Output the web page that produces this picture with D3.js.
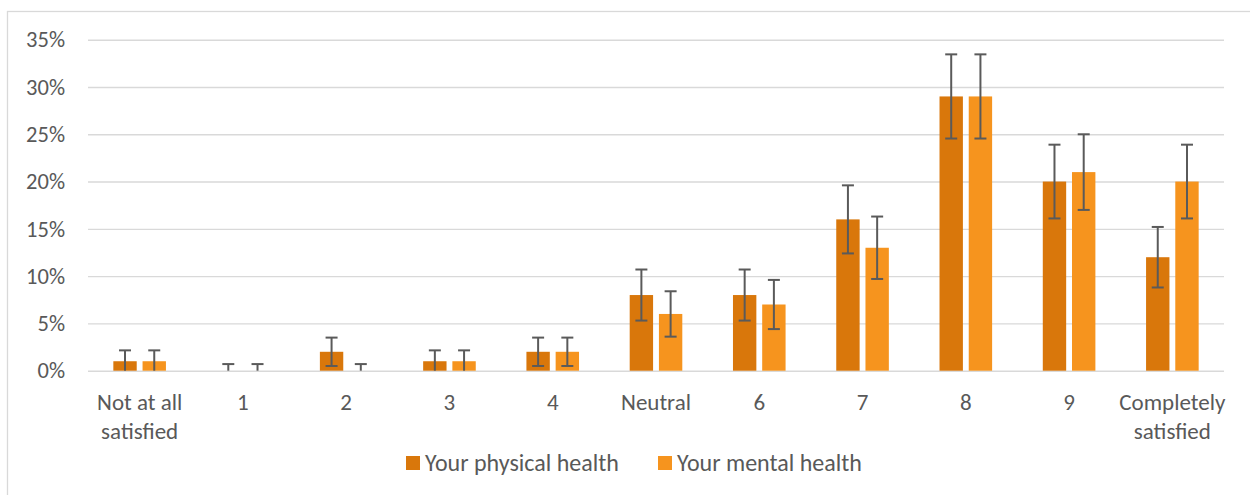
<!DOCTYPE html>
<html>
<head>
<meta charset="utf-8">
<script src="https://cdn.jsdelivr.net/npm/d3@7"></script>
<style>
  html, body { margin: 0; padding: 0; background: #fff; }
  svg { display: block; }
  text { font-family: Calibri, Carlito, Lato, sans-serif; fill: #595959; }
</style>
</head>
<body>
<svg id="chart" width="1250" height="495"></svg>
<script>
const categories = ["Not at all|satisfied", "1", "2", "3", "4", "Neutral", "6", "7", "8", "9", "Completely|satisfied"];
const seriesNames = ["Your physical health", "Your mental health"];
const physicalValues = [1, 0, 2, 1, 2, 8, 8, 16, 29, 20, 12];
const mentalValues   = [1, 0, 0, 1, 2, 6, 7, 13, 29, 21, 20];
const physicalErrors = [1.15, 0.7, 1.5, 1.15, 1.5, 2.7, 2.7, 3.6, 4.45, 3.9, 3.2];
const mentalErrors   = [1.15, 0.7, 0.7, 1.15, 1.5, 2.4, 2.6, 3.3, 4.45, 4.0, 3.9];
const yTicks = [0, 5, 10, 15, 20, 25, 30, 35];
const seriesColors = ["#D9770B", "#F6941E"];

const svg = d3.select("#chart");
const plotLeft = 88, plotRight = 1224, plotTop = 39.7, plotBottom = 370.7;

// outer chart border
svg.append("rect")
  .attr("x", 7.5).attr("y", 11.5)
  .attr("width", 1260).attr("height", 500)
  .attr("fill", "none").attr("stroke", "#d9d9d9").attr("stroke-width", 1.3);

const x0 = d3.scaleBand().domain(categories).range([plotLeft, plotRight]).padding(0);
const groupWidth = 52.6;
const x1 = d3.scaleBand().domain(seriesNames).range([0, groupWidth]).paddingInner(0.2).paddingOuter(0);
const y = d3.scaleLinear().domain([0, 35]).range([plotBottom, plotTop]);

// gridlines
const yAxis = d3.axisLeft(y).tickValues(yTicks).tickFormat(d => d + "%").tickSize(-(plotRight - plotLeft)).tickPadding(23);
const gAxis = svg.append("g").attr("transform", `translate(${plotLeft},0)`).call(yAxis);
gAxis.select(".domain").remove();
gAxis.selectAll(".tick line").attr("stroke", "#d9d9d9").attr("stroke-width", 1.4);
gAxis.selectAll(".tick text").attr("font-size", 22.5).attr("fill", "#595959")
  .style("font-family", "Calibri, Carlito, Lato, sans-serif");

const data = categories.map((c, i) => ({
  cat: c,
  vals: [
    { s: seriesNames[0], v: physicalValues[i], e: physicalErrors[i], color: seriesColors[0] },
    { s: seriesNames[1], v: mentalValues[i], e: mentalErrors[i], color: seriesColors[1] }
  ]
}));

const groups = svg.append("g").selectAll("g").data(data).join("g")
  .attr("transform", d => `translate(${x0(d.cat) + x0.bandwidth() / 2 - groupWidth / 2},0)`);

groups.selectAll("rect").data(d => d.vals).join("rect")
  .attr("x", d => x1(d.s))
  .attr("width", x1.bandwidth())
  .attr("y", d => y(d.v))
  .attr("height", d => y(0) - y(d.v))
  .attr("fill", d => d.color);

// error bars
const capW = 12;
const eb = groups.selectAll("g.err").data(d => d.vals).join("g").attr("class", "err");
eb.append("line")
  .attr("x1", d => x1(d.s) + x1.bandwidth() / 2)
  .attr("x2", d => x1(d.s) + x1.bandwidth() / 2)
  .attr("y1", d => y(d.v + d.e))
  .attr("y2", d => y(Math.max(0, d.v - d.e)))
  .attr("stroke", "#5a5a5a").attr("stroke-width", 2);
eb.append("line")
  .attr("x1", d => x1(d.s) + x1.bandwidth() / 2 - capW / 2)
  .attr("x2", d => x1(d.s) + x1.bandwidth() / 2 + capW / 2)
  .attr("y1", d => y(d.v + d.e))
  .attr("y2", d => y(d.v + d.e))
  .attr("stroke", "#5a5a5a").attr("stroke-width", 2);
eb.filter(d => d.v - d.e > 0).append("line")
  .attr("x1", d => x1(d.s) + x1.bandwidth() / 2 - capW / 2)
  .attr("x2", d => x1(d.s) + x1.bandwidth() / 2 + capW / 2)
  .attr("y1", d => y(d.v - d.e))
  .attr("y2", d => y(d.v - d.e))
  .attr("stroke", "#5a5a5a").attr("stroke-width", 2);

// x axis category labels
const xl = svg.append("g").selectAll("text").data(categories).join("text")
  .attr("x", d => x0(d) + x0.bandwidth() / 2)
  .attr("y", 410)
  .attr("text-anchor", "middle")
  .attr("font-size", 23);
xl.each(function(d) {
  const parts = d.split("|");
  const t = d3.select(this);
  parts.forEach((p, i) => {
    t.append("tspan").attr("x", x0(d) + x0.bandwidth() / 2).attr("dy", i === 0 ? 0 : 28.5).text(p);
  });
});

// legend
const legendX = [406, 658];
const lg = svg.append("g").selectAll("g").data(seriesNames).join("g")
  .attr("transform", (d, i) => `translate(${legendX[i]},456)`);
lg.append("rect").attr("width", 14).attr("height", 14).attr("fill", (d, i) => seriesColors[i]);
lg.append("text").attr("x", 19).attr("y", 15).attr("font-size", 24).text(d => d);
</script>
</body>
</html>
